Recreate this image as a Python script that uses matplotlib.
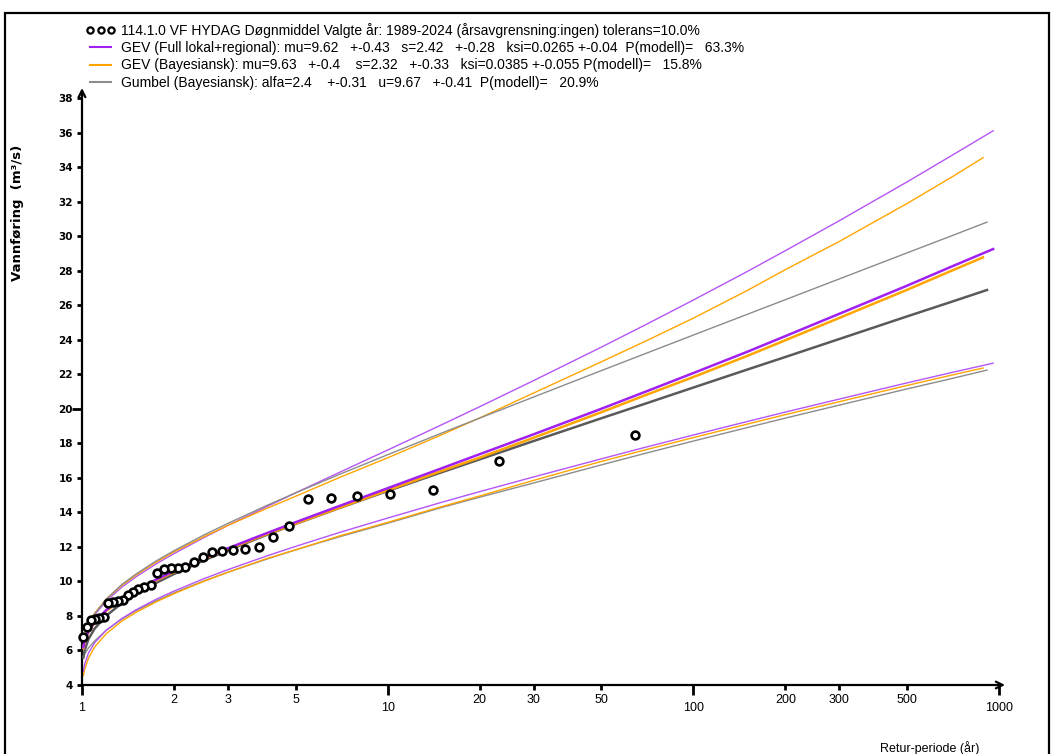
import matplotlib
matplotlib.use('Agg')
import matplotlib.pyplot as plt
from matplotlib.lines import Line2D
from matplotlib.patches import Rectangle

plt.rcParams['font.family'] = ['Liberation Sans', 'DejaVu Sans']

# ---- observed annual maxima (return period in years, discharge m3/s) ----
obs_T = [64.50, 23.15, 14.11, 10.15, 7.92, 6.50, 5.50, 4.76, 4.21, 3.78, 3.42, 3.12,
         2.87, 2.66, 2.48, 2.32, 2.18, 2.06, 1.95, 1.85, 1.76, 1.68, 1.60, 1.53,
         1.47, 1.41, 1.36, 1.31, 1.26, 1.22, 1.18, 1.14, 1.10, 1.07, 1.04, 1.01]
obs_Q = [18.5, 16.96, 15.29, 15.08, 14.96, 14.81, 14.76, 13.22, 12.59, 12.0, 11.88, 11.82,
         11.76, 11.69, 11.43, 11.14, 10.85, 10.79, 10.76, 10.70, 10.47, 9.82, 9.70, 9.55,
         9.40, 9.20, 8.95, 8.88, 8.80, 8.75, 7.95, 7.90, 7.85, 7.75, 7.35, 6.80]

# ---- return-period grid used for the fitted curves ----
grid_T = [1.01, 1.02, 1.05, 1.1, 1.2, 1.35, 1.5, 1.75, 2, 2.5, 3, 4, 5, 7, 10, 15, 20,
          30, 50, 70, 100, 150, 200, 300, 500, 700]
gev_full_end_T = 956
gev_bay_end_T = 886
gumbel_end_T = 913

gev_full_med = [6.19, 6.55, 7.12, 7.66, 8.34, 9.00, 9.49, 10.11, 10.59, 11.35, 11.92, 12.78, 13.43,
                14.39, 15.40, 16.55, 17.37, 18.52, 20.00, 21.00, 22.07, 23.30, 24.21, 25.50, 27.13,
                28.24, 29.25]
gev_full_hi = [6.32, 6.74, 7.42, 8.06, 8.87, 9.67, 10.26, 11.02, 11.61, 12.53, 13.24, 14.31, 15.13,
               16.34, 17.61, 19.07, 20.12, 21.63, 23.57, 24.88, 26.30, 27.95, 29.16, 30.89, 33.14,
               34.67, 36.10]
gev_full_lo = [4.80, 5.21, 5.85, 6.45, 7.17, 7.85, 8.35, 8.97, 9.44, 10.15, 10.68, 11.46, 12.03,
               12.85, 13.67, 14.58, 15.20, 16.05, 17.10, 17.78, 18.48, 19.26, 19.81, 20.56, 21.50,
               22.10, 22.64]

gev_bay_med = [6.14, 6.50, 7.07, 7.61, 8.29, 8.95, 9.44, 10.06, 10.54, 11.30, 11.87, 12.72, 13.35,
               14.29, 15.28, 16.40, 17.17, 18.32, 19.80, 20.80, 21.84, 23.06, 23.97, 25.26, 26.89,
               28.00, 28.77]
gev_bay_hi = [6.42, 6.84, 7.52, 8.16, 8.97, 9.77, 10.36, 11.12, 11.71, 12.58, 13.24, 14.21, 14.93,
              16.04, 17.16, 18.49, 19.47, 20.91, 22.72, 23.93, 25.25, 26.85, 28.06, 29.69, 31.89,
              33.42, 34.54]
gev_bay_lo = [4.55, 4.91, 5.55, 6.20, 6.97, 7.70, 8.20, 8.82, 9.29, 10.00, 10.53, 11.31, 11.83,
              12.65, 13.42, 14.33, 14.95, 15.85, 16.95, 17.63, 18.33, 19.11, 19.66, 20.41, 21.35,
              21.95, 22.36]

gumbel_med = [5.60, 6.01, 6.66, 7.27, 8.01, 8.74, 9.26, 9.92, 10.43, 11.21, 11.80, 12.68, 13.33,
              14.27, 15.24, 16.32, 17.07, 18.13, 19.45, 20.31, 21.23, 22.27, 23.00, 24.04, 25.35,
              26.20, 26.88]
gumbel_hi = [6.19, 6.66, 7.42, 8.12, 8.98, 9.82, 10.42, 11.19, 11.78, 12.68, 13.36, 14.38, 15.13,
             16.22, 17.34, 18.59, 19.46, 20.68, 22.21, 23.21, 24.27, 25.47, 26.32, 27.52, 29.03,
             30.02, 30.81]
gumbel_lo = [5.55, 5.80, 6.15, 6.55, 7.17, 7.82, 8.30, 8.88, 9.34, 10.02, 10.53, 11.28, 11.83,
             12.60, 13.37, 14.28, 14.88, 15.70, 16.75, 17.43, 18.13, 18.91, 19.46, 20.21, 21.15,
             21.75, 22.24]

x_major = [1, 10, 100, 1000]
x_minor = [2, 3, 5, 20, 30, 50, 200, 300, 500]
y_ticks = list(range(4, 39, 2))

legend_labels = [
    "114.1.0 VF HYDAG Døgnmiddel Valgte år: 1989-2024 (årsavgrensning:ingen) tolerans=10.0%",
    "GEV (Full lokal+regional): mu=9.62   +-0.43   s=2.42   +-0.28   ksi=0.0265 +-0.04  P(modell)=   63.3%",
    "GEV (Bayesiansk): mu=9.63   +-0.4    s=2.32   +-0.33   ksi=0.0385 +-0.055 P(modell)=   15.8%",
    "Gumbel (Bayesiansk): alfa=2.4    +-0.31   u=9.67   +-0.41  P(modell)=   20.9%",
]

PURPLE = '#a020f0'
PURPLE_L = '#b455f5'
ORANGE = '#ffa500'
GRAY = '#5a5a5a'
GRAY_L = '#8c8c8c'

W, H = 1055, 754
fig = plt.figure(figsize=(W / 100, H / 100), dpi=100)
fig.patch.set_facecolor('white')

# outer frame
fig.add_artist(Rectangle((5 / W, -0.02), (1049 - 5) / W, 1.02 - 13 / H,
                         transform=fig.transFigure, fill=False, lw=1.6, ec='black'))

ax = fig.add_axes([82 / W, 1 - 685 / H, (1005 - 82) / W, (685 - 88) / H])
ax.set_xscale('log')
ax.set_xlim(1, 10 ** ((1005 - 82) / 305.7))
ax.set_ylim(4, 38 + 10 / 17.265)

T_full = grid_T + [gev_full_end_T]
T_bay = grid_T + [gev_bay_end_T]
T_gum = grid_T + [gumbel_end_T]

# bounds (thin)
ax.plot(T_full, gev_full_hi, color=PURPLE_L, lw=1.0, zorder=3)
ax.plot(T_bay, gev_bay_hi, color=ORANGE, lw=1.0, zorder=3)
ax.plot(T_gum, gumbel_hi, color=GRAY_L, lw=1.0, zorder=3)
ax.plot(T_gum, gumbel_lo, color=GRAY_L, lw=1.0, zorder=3)
ax.plot(T_bay, gev_bay_lo, color=ORANGE, lw=1.0, zorder=3)
ax.plot(T_full, gev_full_lo, color=PURPLE_L, lw=1.0, zorder=3)
# medians (thick)
ax.plot(T_gum, gumbel_med, color=GRAY, lw=1.8, zorder=4)
ax.plot(T_bay, gev_bay_med, color=ORANGE, lw=1.8, zorder=5)
ax.plot(T_full, gev_full_med, color=PURPLE, lw=1.8, zorder=6)

ax.plot(obs_T, obs_Q, ls='none', marker='o', ms=5.6, mfc='white', mec='black', mew=1.9,
        zorder=10, clip_on=False)

# axes styling
for s in ax.spines.values():
    s.set_visible(False)
ax.annotate('', xy=(1.0, 0), xytext=(0, 0), xycoords='axes fraction',
            arrowprops=dict(arrowstyle='->', lw=1.6, color='black', shrinkA=0, shrinkB=0,
                            mutation_scale=12))
ax.annotate('', xy=(0, 1.0), xytext=(0, 0), xycoords='axes fraction',
            arrowprops=dict(arrowstyle='->', lw=1.6, color='black', shrinkA=0, shrinkB=0,
                            mutation_scale=12))

ax.set_xticks(x_major)
ax.set_xticklabels([str(v) for v in x_major])
ax.set_xticks(x_minor, minor=True)
ax.set_xticklabels([str(v) for v in x_minor], minor=True)
ax.tick_params(axis='x', which='major', direction='out', length=7, width=2, pad=5, labelsize=9)
ax.tick_params(axis='x', which='minor', direction='out', length=3.5, width=2, pad=3, labelsize=9)

ax.set_yticks(y_ticks)
ax.set_yticklabels([str(v) for v in y_ticks])
ax.yaxis.set_minor_locator(matplotlib.ticker.NullLocator())
ax.tick_params(axis='y', direction='out', length=3.5, width=2, pad=3, labelsize=7.5)
for lab in ax.get_yticklabels():
    lab.set_fontfamily(['DejaVu Sans'])
    lab.set_fontweight('bold')
# the 20 tick is drawn longer
for t in ax.yaxis.get_major_ticks():
    if abs(t.get_loc() - 20) < 1e-9:
        t.tick1line.set_markersize(7.5)
        t.tick1line.set_markeredgewidth(2)

fig.text(18 / W, 1 - 213 / H, 'Vannføring  (m³/s)', rotation=90, ha='center', va='center',
         fontsize=9.5, fontweight='bold', family=['DejaVu Sans'])
fig.text(930 / W, 1 - 748 / H, 'Retur-periode (år)', ha='center', va='center', fontsize=9)

# legend
handles = [
    Line2D([], [], ls='none', marker='o', ms=4.5, mfc='white', mec='black', mew=1.6),
    Line2D([], [], color=PURPLE, lw=1.5),
    Line2D([], [], color=ORANGE, lw=1.5),
    Line2D([], [], color=GRAY_L, lw=1.5),
]
fig.legend(handles, legend_labels, loc='upper left', bbox_to_anchor=(86 / W, 1 - 23 / H),
           frameon=False, fontsize=10, numpoints=3, handlelength=2.1, handletextpad=0.4,
           labelspacing=0.23, borderpad=0, borderaxespad=0)

fig.savefig('out.png', dpi=100)
